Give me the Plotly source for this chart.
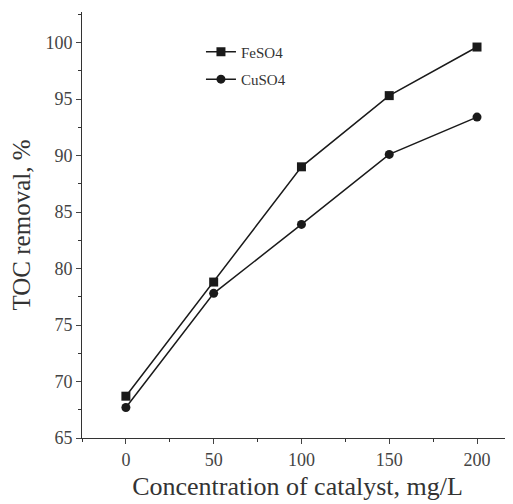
import plotly.graph_objects as go

concentration = [0, 50, 100, 150, 200]
feso4 = [68.7, 78.8, 89.0, 95.3, 99.6]
cuso4 = [67.7, 77.8, 83.9, 90.1, 93.4]
x_ticks = [0, 50, 100, 150, 200]
y_ticks = [65, 70, 75, 80, 85, 90, 95, 100]

font = "Liberation Serif"
fig = go.Figure()
fig.add_trace(go.Scatter(x=concentration, y=feso4, mode="lines+markers", name="FeSO4", legendgroup="a",
                         line=dict(color="#1a1a1a", width=1.5),
                         marker=dict(symbol="square", size=9, color="#1a1a1a")))
fig.add_trace(go.Scatter(x=concentration, y=cuso4, mode="lines+markers", name="CuSO4", legendgroup="b",
                         line=dict(color="#1a1a1a", width=1.5),
                         marker=dict(symbol="circle", size=9, color="#1a1a1a")))

fig.update_layout(
    width=505, height=496,
    margin=dict(l=74, r=0, t=4, b=66),
    plot_bgcolor="white", paper_bgcolor="white",
    font=dict(family=font, color="#333333"),
    legend=dict(x=0.276, y=0.945, xanchor="left", yanchor="top", bgcolor="rgba(0,0,0,0)",
                font=dict(family=font, size=15, color="#333333"), tracegroupgap=5,
                traceorder="grouped"),
    showlegend=True,
)
fig.update_xaxes(range=[-25, 220.5], tickvals=x_ticks, ticks="outside", ticklen=5, automargin=False,
                 showline=True, linecolor="#333333", linewidth=1, showgrid=False, zeroline=False,
                 tickfont=dict(size=18, family=font, color="#444444"),
                 minor=dict(ticks="outside", dtick=25, tick0=0, ticklen=3, tickcolor="#333333"),
                 title=dict(text="Concentration of catalyst, mg/L", font=dict(size=26, family=font, color="#333333"), standoff=8))
fig.update_yaxes(range=[65, 102.7], tickvals=y_ticks, ticks="outside", ticklen=5, automargin=False,
                 showline=True, linecolor="#333333", linewidth=1, showgrid=False, zeroline=False,
                 tickfont=dict(size=18, family=font, color="#444444"),
                 minor=dict(ticks="outside", dtick=2.5, tick0=65, ticklen=3, tickcolor="#333333"),
                 title=dict(text="TOC removal, %", font=dict(size=25, family=font, color="#333333"), standoff=14))
fig.write_html("out.html")
